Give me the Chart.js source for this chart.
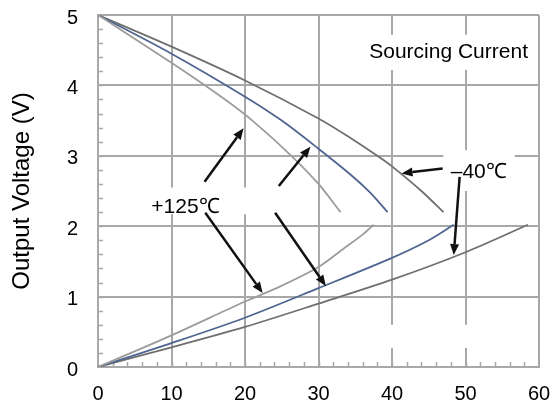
<!DOCTYPE html>
<html>
<head>
<meta charset="utf-8">
<script src="https://cdn.jsdelivr.net/npm/chart.js@4"></script>
<style>
  html, body { margin: 0; padding: 0; background: #fff; }
  #wrap { width: 552px; height: 407px; }
</style>
</head>
<body>
<div id="wrap"><canvas id="chart" width="552" height="407"></canvas></div>
<script>
(function(){
    // sourcing current (upper curves), x = output current, y = output voltage
    const srcHotX  = [0, 10, 17, 21, 26.3, 30, 33];
    const srcHotY  = [5, 4.32, 3.82, 3.5, 3.0, 2.6, 2.2];
    const srcRoomX = [0, 10, 20, 25, 30, 34.5, 37, 39.4];
    const srcRoomY = [5, 4.45, 3.84, 3.5, 3.1, 2.72, 2.48, 2.2];
    const srcColdX = [0, 10, 20, 30, 34.4, 38, 40, 44, 47];
    const srcColdY = [5, 4.55, 4.07, 3.53, 3.25, 3.0, 2.85, 2.5, 2.2];

    // sinking current (lower curves)
    const snkHotX  = [0, 10, 20, 24.3, 30, 33.4, 36, 37.5];
    const snkHotY  = [0, 0.45, 0.93, 1.12, 1.42, 1.68, 1.88, 2.02];
    const snkRoomX = [0, 10, 20, 30, 40, 45, 48.4];
    const snkRoomY = [0, 0.34, 0.7, 1.12, 1.55, 1.8, 2.02];
    const snkColdX = [0, 10, 20, 30, 40, 50, 58.5];
    const snkColdY = [0, 0.28, 0.57, 0.9, 1.24, 1.63, 2.02];

    const xTicks = [0, 10, 20, 30, 40, 50, 60];
    const yTicks = [0, 1, 2, 3, 4, 5];

    // annotation arrows [fromX, fromY, toX, toY] in data units
    const arrows = [
        [14.5, 2.63, 19.8, 3.39],
        [24.6, 2.57, 28.9, 3.13],
        [14.6, 2.19, 22.4, 1.05],
        [24.1, 2.19, 31.0, 1.15],
        [46.9, 2.82, 41.3, 2.75],
        [49.2, 2.70, 48.4, 1.59]
    ];
    // text labels [text, x, y]
    const notes = [
        ["Sourcing Current", 47.7, 4.47],
        ["+125\u2103", 11.9, 2.27],
        ["\u201340\u2103", 51.8, 2.77]
    ];
    // white patches over the grid [x0, x1, y0, y1]
    const patches = [
        [36.0, 59.0, 4.22, 4.72],
        [6.1, 26.9, 2.17, 2.55],
        [47.0, 56.7, 2.5, 3.08],
        [38.2, 58.6, 0.27, 0.6]
    ];

    const FONT = "'Liberation Sans', Arial, sans-serif";
    const GRID = '#a8a8a8';
    const LIGHT = '#9c9c9c', BLUE = '#4f6590', DARK = '#6f6f6f';

    function pts(xs, ys){ return xs.map((x, i) => ({x: x, y: ys[i]})); }

    function line(xs, ys, color){
        return {
            data: pts(xs, ys),
            borderColor: color,
            borderWidth: 1.8,
            pointRadius: 0,
            showLine: true,
            fill: false,
            tension: 0.3
        };
    }

    const extras = {
        id: 'extras',
        beforeDatasetsDraw(chart){
            const {ctx, scales: {x, y}} = chart;
            ctx.save();
            ctx.fillStyle = '#fff';
            patches.forEach(p => {
                const l = x.getPixelForValue(p[0]), r = x.getPixelForValue(p[1]);
                const t = y.getPixelForValue(p[3]), b = y.getPixelForValue(p[2]);
                ctx.fillRect(l, t, r - l, b - t);
            });
            // minor ticks on left and bottom axes
            ctx.strokeStyle = GRID;
            ctx.lineWidth = 1.5;
            const left = chart.chartArea.left, bottom = chart.chartArea.bottom;
            ctx.beginPath();
            for (let v = 0.2; v < 5; v += 0.2) {
                const py = Math.round(y.getPixelForValue(v)) + 0.5;
                ctx.moveTo(left, py); ctx.lineTo(left + 5, py);
            }
            for (let v = 2; v < 60; v += 2) {
                const px = Math.round(x.getPixelForValue(v)) + 0.5;
                ctx.moveTo(px, bottom); ctx.lineTo(px, bottom - 5);
            }
            ctx.stroke();
            ctx.restore();
        },
        afterDatasetsDraw(chart){
            const {ctx, scales: {x, y}} = chart;
            ctx.save();
            ctx.strokeStyle = '#111';
            ctx.fillStyle = '#111';
            ctx.lineWidth = 2.5;
            arrows.forEach(a => {
                const x0 = x.getPixelForValue(a[0]), y0 = y.getPixelForValue(a[1]);
                const x1 = x.getPixelForValue(a[2]), y1 = y.getPixelForValue(a[3]);
                const ang = Math.atan2(y1 - y0, x1 - x0);
                const hl = 11, hw = 4.5;
                const bx = x1 - hl * Math.cos(ang), by = y1 - hl * Math.sin(ang);
                ctx.beginPath();
                ctx.moveTo(x0, y0); ctx.lineTo(bx, by);
                ctx.stroke();
                ctx.beginPath();
                ctx.moveTo(x1, y1);
                ctx.lineTo(bx + hw * Math.sin(ang), by - hw * Math.cos(ang));
                ctx.lineTo(bx - hw * Math.sin(ang), by + hw * Math.cos(ang));
                ctx.closePath();
                ctx.fill();
            });
            ctx.fillStyle = '#000';
            ctx.font = '21px ' + FONT;
            ctx.textAlign = 'center';
            ctx.textBaseline = 'middle';
            notes.forEach(n => {
                ctx.fillText(n[0], x.getPixelForValue(n[1]), y.getPixelForValue(n[2]));
            });
            ctx.restore();
        }
    };

    new Chart(document.getElementById('chart'), {
        type: 'scatter',
        data: {
            datasets: [
                line(srcHotX, srcHotY, LIGHT),
                line(srcRoomX, srcRoomY, BLUE),
                line(srcColdX, srcColdY, DARK),
                line(snkHotX, snkHotY, LIGHT),
                line(snkRoomX, snkRoomY, BLUE),
                line(snkColdX, snkColdY, DARK)
            ]
        },
        options: {
            responsive: false,
            animation: false,
            layout: { padding: 0 },
            plugins: { legend: { display: false }, tooltip: { enabled: false } },
            scales: {
                x: {
                    type: 'linear', min: 0, max: 60,
                    afterFit: s => { s.height = 40; s.paddingLeft = 0; s.paddingRight = 13; },
                    afterBuildTicks: s => { s.ticks = xTicks.map(v => ({value: v})); },
                    grid: { color: GRID, lineWidth: 2, drawTicks: false },
                    border: { color: GRID, width: 2 },
                    ticks: { color: '#000', padding: 15, font: { size: 20, family: FONT } }
                },
                y: {
                    type: 'linear', min: 0, max: 5,
                    afterFit: s => { s.width = 98; s.paddingTop = 15; s.paddingBottom = 0; },
                    afterBuildTicks: s => { s.ticks = yTicks.map(v => ({value: v})); },
                    grid: { color: GRID, lineWidth: 2, drawTicks: false },
                    border: { color: GRID, width: 2 },
                    ticks: { color: '#000', padding: 20, labelOffset: 3, font: { size: 20, family: FONT } },
                    title: {
                        display: true, text: 'Output Voltage (V)', color: '#000',
                        padding: { top: 8, bottom: 0 },
                        font: { size: 24, family: FONT }
                    }
                }
            }
        },
        plugins: [extras]
    });
})();
</script>
</body>
</html>
